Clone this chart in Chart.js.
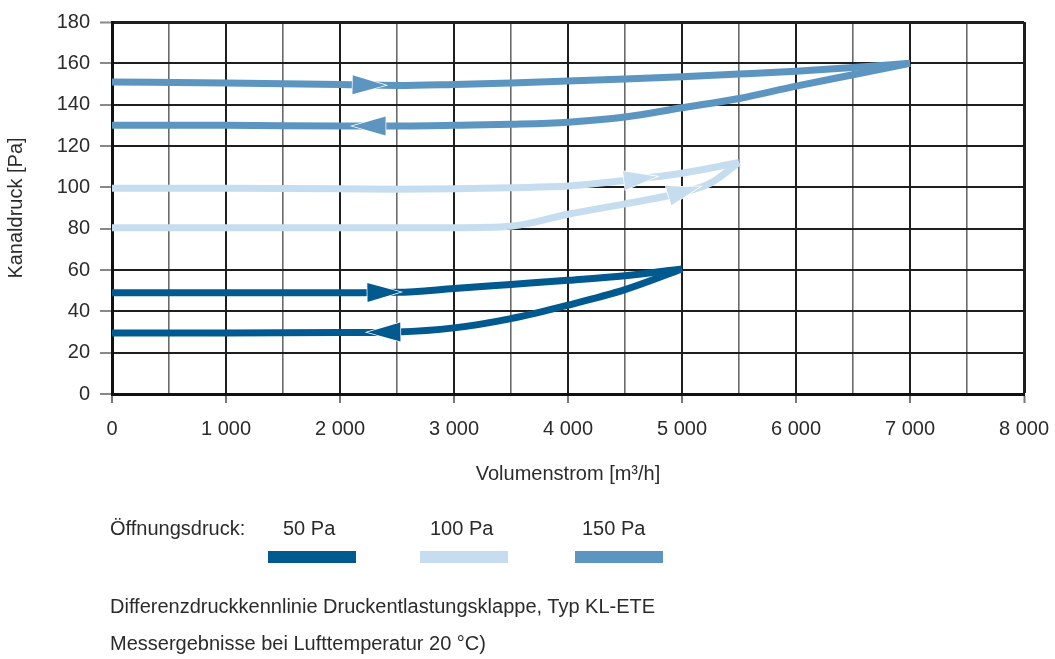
<!DOCTYPE html>
<html>
<head>
<meta charset="utf-8">
<script src="https://cdn.jsdelivr.net/npm/chart.js@4"></script>
<style>
  body { margin: 0; background: #fff; font-family: "Liberation Sans", Arial, sans-serif; color: #2b2b2b; }
  #wrap { position: relative; width: 1055px; height: 659px; }
  #chartBox { position: absolute; left: 0; top: 0; width: 1055px; height: 659px; }
  .txt { position: absolute; font-size: 20px; line-height: 24px; white-space: nowrap; }
  .swatch { position: absolute; height: 12px; width: 88px; top: 551px; }
</style>
</head>
<body>
<div id="wrap">
  <div id="chartBox"><canvas id="graph"></canvas></div>
  <div class="txt" style="left:110px; top:516px;">Öffnungsdruck:</div>
  <div class="txt" id="lab0" style="left:283px; top:516px;"></div>
  <div class="txt" id="lab1" style="left:430px; top:516px;"></div>
  <div class="txt" id="lab2" style="left:582px; top:516px;"></div>
  <div class="swatch" id="sw0" style="left:268px;"></div>
  <div class="swatch" id="sw1" style="left:420px;"></div>
  <div class="swatch" id="sw2" style="left:575px;"></div>
  <div class="txt" style="left:110px; top:594px;">Differenzdruckkennlinie Druckentlastungsklappe, Typ KL-ETE</div>
  <div class="txt" style="left:110px; top:631px;">Messergebnisse bei Lufttemperatur 20 °C)</div>
</div>
<script>
// opening pressures (legend)
const seriesNames = ["50 Pa", "100 Pa", "150 Pa"];
const seriesColors = ["#005a8f", "#c6ddef", "#5c95c0"];

// 50 Pa loop
const flow50Up = [0, 1000, 2000, 2500, 3000, 3500, 4000, 4500, 5000];
const press50Up = [49, 49, 49, 49.2, 51, 53, 55, 57.2, 60.5];
const flow50Down = [0, 1000, 2000, 2500, 3000, 3500, 4000, 4500, 5000];
const press50Down = [29.5, 29.5, 29.7, 30, 32, 36.5, 43, 50.5, 60.5];

// 100 Pa loop
const flow100Up = [0, 1000, 2000, 2500, 3000, 3500, 4000, 4500, 5000, 5500];
const press100Up = [99.5, 99.5, 99.3, 99.1, 99.3, 99.8, 100.6, 103.3, 106.8, 112];
const flow100Down = [0, 1000, 2000, 3000, 3500, 4000, 4500, 5000, 5250, 5500];
const press100Down = [80.5, 80.5, 80.5, 80.5, 81.2, 87, 92, 97.5, 102, 112];

// 150 Pa loop
const flow150Up = [0, 1000, 2000, 2500, 3000, 3500, 4000, 4500, 5000, 5500, 6000, 6500, 7000];
const press150Up = [151, 150.5, 149.8, 149.3, 149.8, 150.5, 151.4, 152.4, 153.5, 154.8, 156.2, 158, 160];
const flow150Down = [0, 1000, 2000, 2500, 3000, 3500, 4000, 4500, 5000, 5500, 6000, 6500, 7000];
const press150Down = [130, 130, 129.7, 129.7, 130, 130.5, 131.5, 134, 138.5, 143, 149, 154.5, 160];

// axis ticks
const xTicks = [0, 1000, 2000, 3000, 4000, 5000, 6000, 7000, 8000];
const yTicks = [0, 20, 40, 60, 80, 100, 120, 140, 160, 180];

// arrow tips: [dataset index, flow at tip, direction]
const arrowTips = [
  [0, 2530, 1], [1, 2240, -1],
  [2, 4780, 1], [3, 5160, 1],
  [4, 2400, 1], [5, 2110, -1]
];

const branches = [
  [flow50Up, press50Up, 0], [flow50Down, press50Down, 0],
  [flow100Up, press100Up, 1], [flow100Down, press100Down, 1],
  [flow150Up, press150Up, 2], [flow150Down, press150Down, 2]
];

seriesNames.forEach((n, i) => {
  document.getElementById("lab" + i).textContent = n;
  document.getElementById("sw" + i).style.background = seriesColors[i];
});

function fmt(v) {
  return String(v).replace(/\B(?=(\d{3})+(?!\d))/g, " ");
}

function interp(xs, ys, x) {
  for (let i = 1; i < xs.length; i++) {
    if (x <= xs[i]) {
      const t = (x - xs[i - 1]) / (xs[i] - xs[i - 1]);
      return ys[i - 1] + t * (ys[i] - ys[i - 1]);
    }
  }
  return ys[ys.length - 1];
}

const arrowPlugin = {
  id: "arrows",
  afterDatasetsDraw(chart) {
    const ctx = chart.ctx;
    const xs = chart.scales.x, ys = chart.scales.y;
    arrowTips.forEach(([di, fx, dir]) => {
      const b = branches[di];
      const tx = xs.getPixelForValue(fx), ty = ys.getPixelForValue(interp(b[0], b[1], fx));
      const bx0 = fx - dir * 200;
      const px = xs.getPixelForValue(bx0), py = ys.getPixelForValue(interp(b[0], b[1], bx0));
      let ux = tx - px, uy = ty - py;
      const len = Math.hypot(ux, uy);
      ux /= len; uy /= len;
      const L = 33, W = 9.5;
      const cx = tx - ux * L, cy = ty - uy * L;
      ctx.save();
      ctx.beginPath();
      ctx.moveTo(tx, ty);
      ctx.lineTo(cx - uy * W, cy + ux * W);
      ctx.lineTo(cx + uy * W, cy - ux * W);
      ctx.closePath();
      ctx.fillStyle = seriesColors[b[2]];
      ctx.strokeStyle = "#ffffff";
      ctx.lineWidth = 1.5;
      ctx.stroke();
      ctx.fill();
      ctx.restore();
    });
  }
};

const font = { family: "'Liberation Sans', Arial, sans-serif", size: 20 };

new Chart(document.getElementById("graph").getContext("2d"), {
  type: "line",
  data: {
    datasets: branches.map((b) => ({
      data: b[0].map((x, i) => ({ x: x, y: b[1][i] })),
      borderColor: seriesColors[b[2]],
      borderWidth: 7,
      pointRadius: 0,
      cubicInterpolationMode: "monotone",
      fill: false,
    })),
  },
  options: {
    responsive: true,
    maintainAspectRatio: false,
    animation: false,
    layout: { padding: { top: 19, right: 31, left: 0, bottom: 165 } },
    plugins: { legend: { display: false }, tooltip: { enabled: false } },
    scales: {
      x: {
        type: "linear",
        min: 0,
        max: 8000,
        afterFit: (s) => { s.height = 100; s.paddingRight = 26; s.paddingLeft = 6; },
        ticks: {
          stepSize: 500,
          autoSkip: false,
          maxRotation: 0,
          padding: 14,
          color: "#2b2b2b",
          font: font,
          callback: (v) => (xTicks.includes(v) ? fmt(v) : ""),
        },
        grid: {
          color: (c) => (c.tick && c.tick.value % 1000 === 0 ? "#1e1e1e" : "#6a6a6a"),
          lineWidth: (c) => (c.tick && c.tick.value === 8000 ? 3 : c.tick && c.tick.value % 1000 === 0 ? 2 : 1.6),
          tickLength: 9,
          tickColor: (c) => (c.tick && c.tick.value % 1000 === 0 ? "#777" : "rgba(0,0,0,0)"),
          tickWidth: 2,
        },
        border: { color: "#111", width: 3 },
        title: {
          display: true,
          text: "Volumenstrom [m³/h]",
          color: "#2b2b2b",
          font: font,
          padding: { top: 4, bottom: 8 },
        },
      },
      y: {
        min: 0,
        max: 180,
        afterFit: (s) => { s.width = 112; },
        afterBuildTicks: (s) => { s.ticks = yTicks.map((v) => ({ value: v })); },
        ticks: { padding: 10, color: "#2b2b2b", font: font },
        grid: {
          color: "#1e1e1e",
          lineWidth: (c) => (c.tick && c.tick.value === 180 ? 3 : 2),
          tickLength: 12,
          tickColor: "#888",
          tickWidth: 2,
        },
        border: { color: "#111", width: 3 },
        title: {
          display: true,
          text: "Kanaldruck [Pa]",
          color: "#2b2b2b",
          font: font,
          padding: { top: 4, bottom: 4 },
        },
      },
    },
  },
  plugins: [arrowPlugin],
});
</script>
</body>
</html>
